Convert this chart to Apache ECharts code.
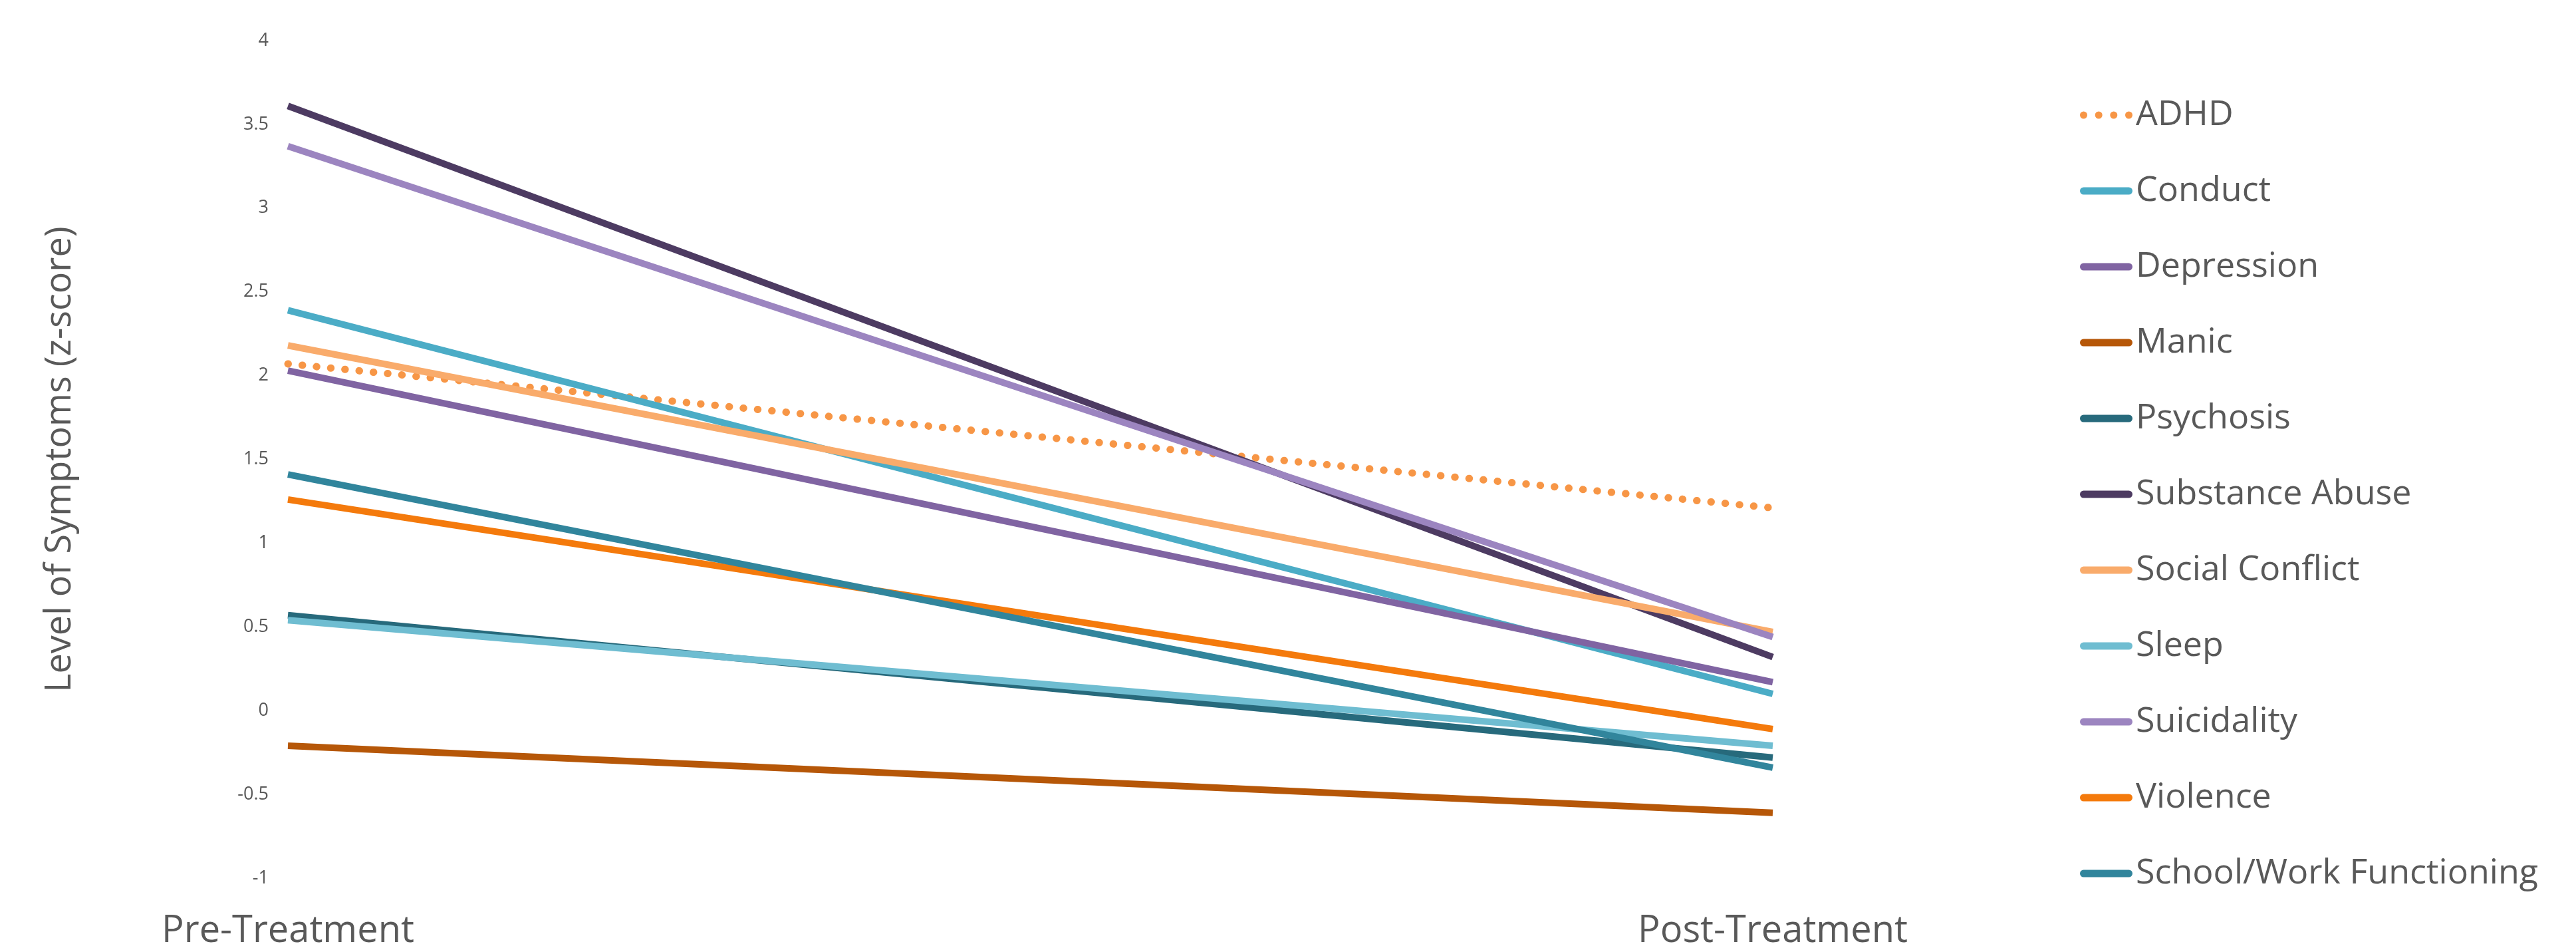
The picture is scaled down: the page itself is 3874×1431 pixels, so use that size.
<!DOCTYPE html>
<html>
<head>
<meta charset="utf-8">
<script src="https://cdn.jsdelivr.net/npm/echarts@6/dist/echarts.min.js"></script>
<style>
  html, body { margin: 0; padding: 0; background: #fff; }
  #chart { width: 3874px; height: 1431px; }
</style>
</head>
<body>
<div id="chart"></div>
<script>
// time points on the x axis
const timePoints = ['Pre-Treatment', 'Post-Treatment']

// symptom scales, in legend order
const symptoms = [
  'ADHD', 'Conduct', 'Depression', 'Manic', 'Psychosis', 'Substance Abuse',
  'Social Conflict', 'Sleep', 'Suicidality', 'Violence', 'School/Work Functioning',
]

// z-scores
const preScores = [2.07, 2.39, 2.03, -0.21, 0.57, 3.61, 2.18, 0.54, 3.37, 1.26, 1.41]
const postScores = [1.21, 0.10, 0.17, -0.61, -0.28, 0.32, 0.47, -0.21, 0.44, -0.11, -0.34]

const lineColors = [
  '#F79646', '#4BACC6', '#8064A2', '#B65708', '#276A7C', '#4D3B62',
  '#F9AB6B', '#6FBDD1', '#9C85C0', '#F47A0C', '#31859C',
]

const FONT = '"Open Sans", "Noto Sans", sans-serif'
const TEXT = '#595959'

// legend swatches: a thick capsule, or four dots for the dotted series
const ICON_SOLID = 'path://M5.5,0H73.5A5.5,5.5,0,0,1,73.5,11H5.5A5.5,5.5,0,0,1,5.5,0Z'
const ICON_DOTS = 'path://M0,5.5a5.5,5.5 0 1,0 11,0a5.5,5.5 0 1,0 -11,0Z' +
  'M22.7,5.5a5.5,5.5 0 1,0 11,0a5.5,5.5 0 1,0 -11,0Z' +
  'M45.3,5.5a5.5,5.5 0 1,0 11,0a5.5,5.5 0 1,0 -11,0Z' +
  'M68,5.5a5.5,5.5 0 1,0 11,0a5.5,5.5 0 1,0 -11,0Z'

const chart = echarts.init(document.getElementById('chart'))

chart.setOption({
  animation: false,
  backgroundColor: '#fff',
  grid: { left: 433, right: 1208, top: 61, bottom: 111 },
  legend: {
    orient: 'vertical',
    left: 3123,
    top: 138,
    itemWidth: 79,
    itemHeight: 11,
    itemGap: 54,
    textStyle: { fontFamily: FONT, fontSize: 52, color: TEXT, lineHeight: 60 },
    data: symptoms.map((name, i) => ({ name, icon: i === 0 ? ICON_DOTS : ICON_SOLID })),
  },
  xAxis: {
    type: 'category',
    data: timePoints,
    boundaryGap: false,
    axisLine: { show: false },
    axisTick: { show: false },
    splitLine: { show: false },
    axisLabel: { fontFamily: FONT, fontSize: 56, color: TEXT, margin: 52 },
  },
  yAxis: {
    type: 'value',
    min: -1,
    max: 4,
    interval: 0.5,
    name: 'Level of Symptoms (z-score)',
    nameLocation: 'middle',
    nameGap: 315,
    nameTextStyle: { fontFamily: FONT, fontSize: 54, color: TEXT },
    axisLine: { show: false },
    axisTick: { show: false },
    splitLine: { show: false },
    axisLabel: { fontFamily: FONT, fontSize: 27, color: TEXT, margin: 29 },
  },
  series: symptoms.map((name, i) => ({
    name,
    type: 'line',
    symbol: 'none',
    data: [preScores[i], postScores[i]],
    lineStyle: i === 0
      ? { color: lineColors[i], width: 11, type: [0.5, 21], cap: 'round' }
      : { color: lineColors[i], width: 10 },
    itemStyle: { color: lineColors[i] },
  })),
})
</script>
</body>
</html>
